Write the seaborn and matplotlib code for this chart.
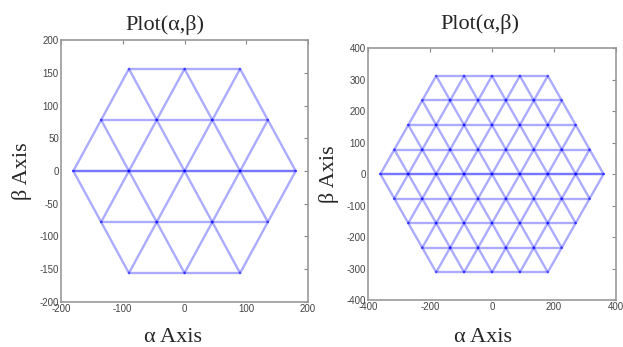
import numpy as np
import pandas as pd
import matplotlib
matplotlib.use("Agg")
import matplotlib.pyplot as plt
import seaborn as sns

# Space-vector lattice settings for the two inverters
left_step = 90        # spacing between adjacent vectors
left_levels = 2       # rings of vectors around the origin
right_step = 90
right_levels = 4

left_xticks = [-200, -100, 0, 100, 200]
left_yticks = [-200, -150, -100, -50, 0, 50, 100, 150, 200]
right_xticks = [-400, -200, 0, 200, 400]
right_yticks = [-400, -300, -200, -100, 0, 100, 200, 300, 400]

title_text = "Plot(\u03b1,\u03b2)"
xlabel_text = "\u03b1 Axis"
ylabel_text = "\u03b2 Axis"


def lattice_edges(step, levels):
    """Edges joining neighbouring switching vectors inside the hexagon."""
    e1 = np.array([1.0, 0.0])
    e2 = np.array([0.5, np.sqrt(3) / 2])
    inside = lambda a, b: max(abs(a), abs(b), abs(a + b)) <= levels
    dirs = [(1, 0), (0, 1), (-1, 1)]
    rows = []
    eid = 0
    for a in range(-levels, levels + 1):
        for b in range(-levels, levels + 1):
            if not inside(a, b):
                continue
            for da, db in dirs:
                a2, b2 = a + da, b + db
                if not inside(a2, b2):
                    continue
                p = step * (a * e1 + b * e2)
                q = step * (a2 * e1 + b2 * e2)
                rows.append((eid, p[0], p[1]))
                rows.append((eid, q[0], q[1]))
                eid += 1
    return pd.DataFrame(rows, columns=["edge", "alpha", "beta"])


sns.set_style("white")
plt.rcParams["font.family"] = ["Liberation Sans", "DejaVu Sans"]
plt.rcParams["axes.unicode_minus"] = False

fig = plt.figure(figsize=(6.23, 3.47), dpi=100)
ax_l = fig.add_axes([0.0979, 0.1297, 0.3965, 0.755])
ax_r = fig.add_axes([0.5907, 0.1354, 0.398, 0.726])

# (axes, edges, xticks, yticks, title pad, title x, xlabel x, xlabel y)
panels = [
    (ax_l, lattice_edges(left_step, left_levels), left_xticks, left_yticks,
     7.5, 0.42, 0.455, -0.134),
    (ax_r, lattice_edges(right_step, right_levels), right_xticks, right_yticks,
     13.5, 0.45, 0.465, -0.147),
]

serif = ["Liberation Serif", "DejaVu Serif"]
for ax, df, xt, yt, tpad, tx, lx, ly in panels:
    sns.lineplot(data=df, x="alpha", y="beta", units="edge", estimator=None,
                 sort=False, color="#0000ff", alpha=0.33, linewidth=1.7,
                 legend=False, ax=ax)
    # the zero-sequence row is traversed twice, so it reads darker
    axis_row = df[df.groupby("edge")["beta"].transform(lambda b: np.allclose(b, 0))]
    sns.lineplot(data=axis_row, x="alpha", y="beta", units="edge", estimator=None,
                 sort=False, color="#0000ff", alpha=0.3, linewidth=1.7,
                 legend=False, ax=ax)
    ax.set_xlim(xt[0], xt[-1])
    ax.set_ylim(yt[0], yt[-1])
    ax.set_xticks(xt)
    ax.set_yticks(yt)
    ax.tick_params(direction="in", length=3, width=0.8, color="#888888",
                   labelsize=7, labelcolor="#444444", pad=1.5,
                   top=True, right=True)
    for s in ax.spines.values():
        s.set_color("#999999")
        s.set_linewidth(1.2)
        s.set_visible(True)
    ax.set_title(title_text, family=serif, fontsize=16, pad=tpad, x=tx)
    ax.set_xlabel(xlabel_text, family=serif, fontsize=16, va="center")
    ax.xaxis.set_label_coords(lx, ly)
    ax.set_ylabel(ylabel_text, family=serif, fontsize=16, labelpad=5.5)

fig.savefig("out.png", dpi=100)
